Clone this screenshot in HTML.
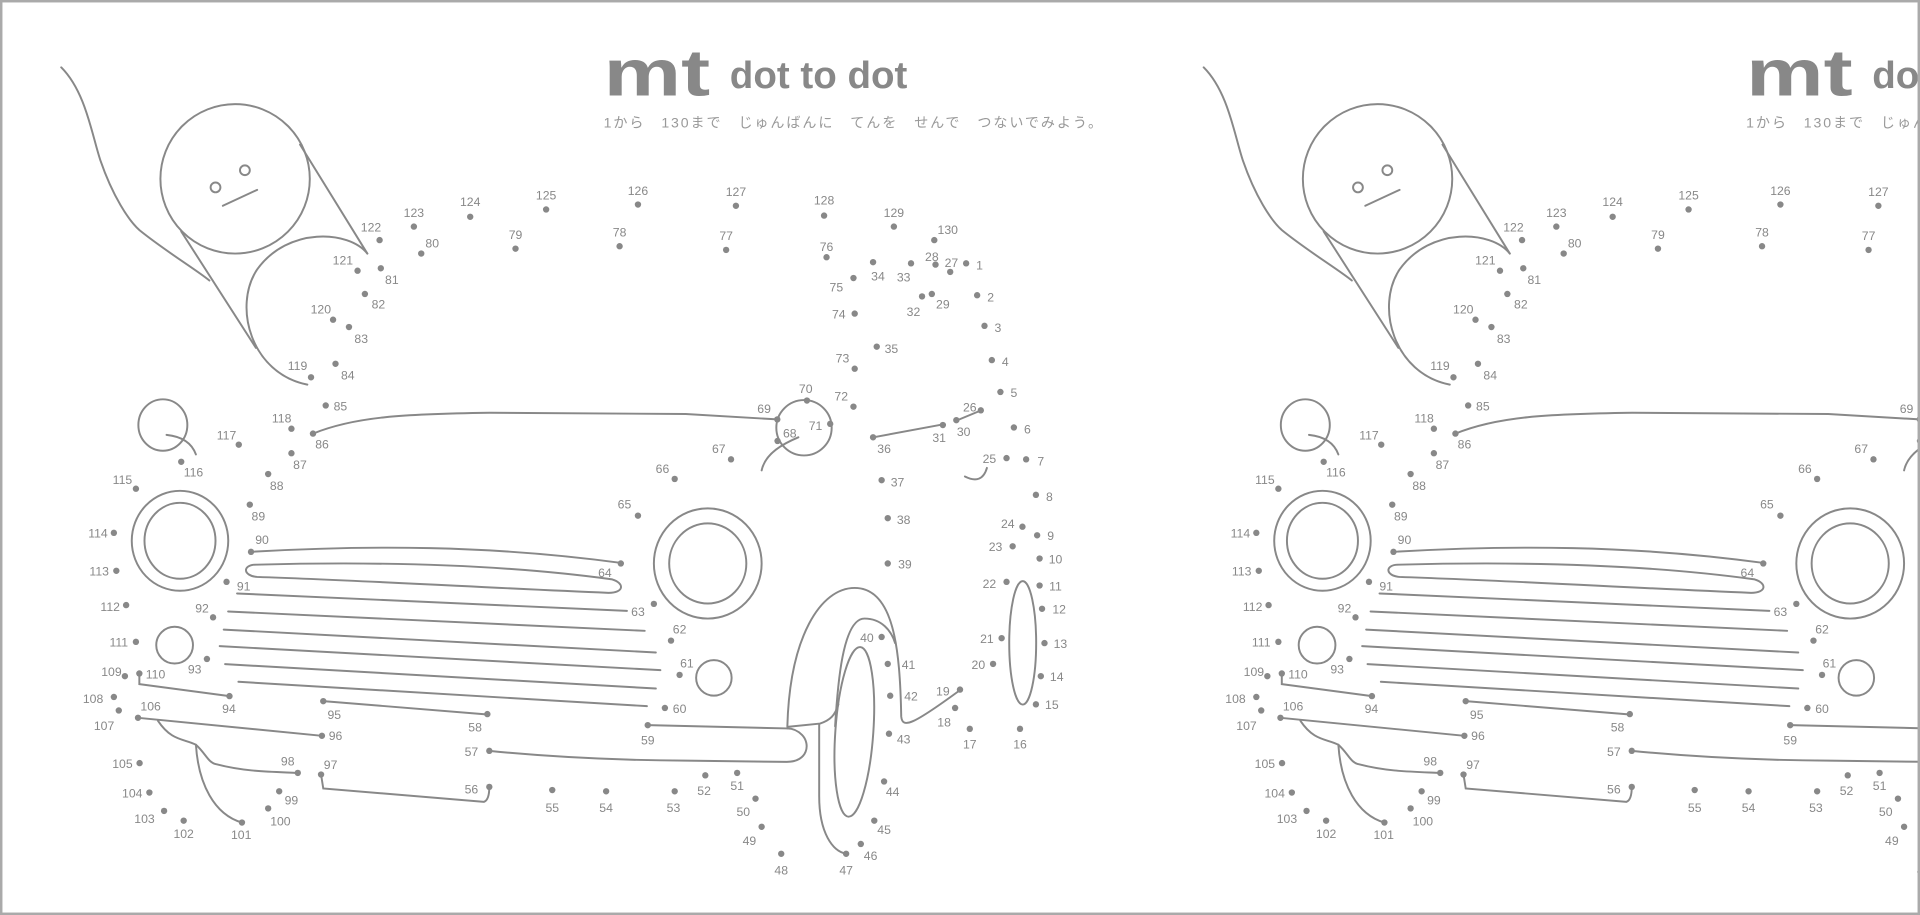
<!DOCTYPE html>
<html><head><meta charset="utf-8"><style>
html,body{margin:0;padding:0;background:#fff;}
svg{display:block;}
</style></head><body>
<svg width="1920" height="915" viewBox="0 0 1568 747" preserveAspectRatio="none" xmlns="http://www.w3.org/2000/svg">
<rect x="0" y="0" width="1568" height="747" fill="#fff"/>
<g id="p">
<g fill="none" stroke="#888" stroke-width="1.6" stroke-linecap="round">
<text x="493" y="78" font-family="Liberation Sans, sans-serif" font-weight="bold" font-size="54" fill="#888" stroke="none" textLength="87" lengthAdjust="spacingAndGlyphs">mt</text>
<path d="M50,55 C70,75 75,110 82,131 C92,160 105,180 114,188 C135,205 160,220 171,229"/>
<circle cx="192" cy="146" r="61"/>
<circle cx="176" cy="153" r="4"/><circle cx="200" cy="139" r="4"/>
<path d="M182,168 L210,155"/>
<path d="M148,189 L209,284"/>
<path d="M245,118 L300,207"/>
<path d="M251,314 C205,305 190,250 210,220 C235,185 285,188 300,207"/>
<path d="M255.6,354 C290,340 330,338 400,337 L560,338 L634.8,342.4"/>
<ellipse cx="133" cy="347" rx="20" ry="21"/>
<path d="M136,355 Q155,357 160,371"/>
<ellipse cx="147" cy="441.5" rx="39.4" ry="40.8"/>
<ellipse cx="147" cy="441.5" rx="29" ry="31"/>
<ellipse cx="578" cy="460" rx="44" ry="45"/>
<ellipse cx="578" cy="460" rx="31.5" ry="32.7"/>
<circle cx="142.6" cy="526.7" r="15"/>
<circle cx="583" cy="553.4" r="14.5"/>
<path d="M205,450.5 C300,445 400,445 506.5,459.5"/>
<path d="M209,461 C320,458 420,462 500,473 C510,476 510,484 497,484 C400,480 300,474 210,471 C198,470 198,461 209,461Z"/>
<path d="M193.6,484.5 L512,498.7"/>
<path d="M186.3,499.2 L526.5,515"/>
<path d="M182.7,514 L535.6,532.7"/>
<path d="M179.4,527.5 L539.3,547.1"/>
<path d="M183.8,542.2 L535.6,562.1"/>
<path d="M194.7,556.6 L528.3,576.5"/>
<path d="M113.8,549.8 L113.8,558.5 L187.4,568.3"/>
<path d="M264,572.4 L398.2,583.3"/>
<path d="M112.7,586 L262.9,600.7"/>
<path d="M129,588.5 C140,605 150,603 160,608 C168,615 170,623 177,624 C200,630 220,630 243,631"/>
<path d="M160,608 C162,640 175,665 197.6,671.5"/>
<path d="M262.2,632.3 L264,643.7 L395.3,654.6 Q399.6,653 399.6,642.4"/>
<path d="M399.6,613 C450,618 500,620.6 560,621 L642.5,622 C660,622 662,607 655,600 C650,595 645,594.7 643,594.7"/>
<path d="M529.4,592 L643,594.7"/>
<circle cx="656.6" cy="349.2" r="22.6"/>
<path d="M652,357 C640,362 625,370 622,384"/>
<path d="M712.7,357.1 L769.9,346.5"/>
<path d="M780.8,343.5 L801.7,334.8"/>
<path d="M788,389 Q802,396 806,382"/>
<ellipse cx="835.2" cy="524.8" rx="11" ry="50.4"/>
<ellipse cx="697.7" cy="597.5" rx="15.5" ry="69.4" transform="rotate(4 697.7 597.5)"/>
<path d="M643,593 C645,520 670,480 698,480 C730,480 735,530 736,585 C737,595 745,592 784,563.4"/>
<path d="M682,593 C684,560 688,505 706,505 C720,505 728,515 731,525"/>
<path d="M643,593.4 L669.7,590.7 C678,588 682,584 684.7,575"/>
<path d="M669,591 L669,650 C669,680 680,695 691,697"/>
</g>
<text x="596" y="72" font-family="Liberation Sans, sans-serif" font-weight="bold" font-size="31" fill="#888" textLength="145" lengthAdjust="spacingAndGlyphs">dot to dot</text>
<text x="493" y="104" font-family="Liberation Sans, 'Noto Sans CJK JP', sans-serif" font-size="11.5" fill="#999" textLength="407" lengthAdjust="spacing">1から　130まで　じゅんばんに　てんを　せんで　つないでみよう。</text>
<g fill="#888">
<circle cx="789" cy="215" r="2.6"/><circle cx="798" cy="241" r="2.6"/><circle cx="804" cy="266" r="2.6"/><circle cx="810" cy="294" r="2.6"/><circle cx="817" cy="320" r="2.6"/><circle cx="828" cy="349" r="2.6"/><circle cx="838" cy="375" r="2.6"/><circle cx="846" cy="404" r="2.6"/><circle cx="847" cy="437" r="2.6"/><circle cx="849" cy="456" r="2.6"/><circle cx="849" cy="478" r="2.6"/><circle cx="851" cy="497" r="2.6"/><circle cx="853" cy="525" r="2.6"/><circle cx="850" cy="552" r="2.6"/><circle cx="846" cy="575" r="2.6"/><circle cx="833" cy="595" r="2.6"/><circle cx="792" cy="595" r="2.6"/><circle cx="780" cy="578" r="2.6"/><circle cx="784" cy="563" r="2.6"/><circle cx="811" cy="542" r="2.6"/><circle cx="818" cy="521" r="2.6"/><circle cx="822" cy="475" r="2.6"/><circle cx="827" cy="446" r="2.6"/><circle cx="835" cy="430" r="2.6"/><circle cx="822" cy="374" r="2.6"/><circle cx="801" cy="335" r="2.6"/><circle cx="776" cy="222" r="2.6"/><circle cx="764" cy="216" r="2.6"/><circle cx="761" cy="240" r="2.6"/><circle cx="781" cy="343" r="2.6"/><circle cx="770" cy="347" r="2.6"/><circle cx="753" cy="242" r="2.6"/><circle cx="744" cy="215" r="2.6"/><circle cx="713" cy="214" r="2.6"/><circle cx="716" cy="283" r="2.6"/><circle cx="713" cy="357" r="2.6"/><circle cx="720" cy="392" r="2.6"/><circle cx="725" cy="423" r="2.6"/><circle cx="725" cy="460" r="2.6"/><circle cx="720" cy="520" r="2.6"/><circle cx="725" cy="542" r="2.6"/><circle cx="727" cy="568" r="2.6"/><circle cx="726" cy="599" r="2.6"/><circle cx="722" cy="638" r="2.6"/><circle cx="714" cy="670" r="2.6"/><circle cx="703" cy="689" r="2.6"/><circle cx="691" cy="697" r="2.6"/><circle cx="638" cy="697" r="2.6"/><circle cx="622" cy="675" r="2.6"/><circle cx="617" cy="652" r="2.6"/><circle cx="602" cy="631" r="2.6"/><circle cx="576" cy="633" r="2.6"/><circle cx="551" cy="646" r="2.6"/><circle cx="495" cy="646" r="2.6"/><circle cx="451" cy="645" r="2.6"/><circle cx="399.6" cy="642.4" r="2.6"/><circle cx="399.6" cy="613" r="2.6"/><circle cx="398" cy="583" r="2.6"/><circle cx="529" cy="592" r="2.6"/><circle cx="543" cy="578" r="2.6"/><circle cx="555" cy="551" r="2.6"/><circle cx="548" cy="523" r="2.6"/><circle cx="534" cy="493" r="2.6"/><circle cx="507" cy="460" r="2.6"/><circle cx="521" cy="421" r="2.6"/><circle cx="551" cy="391" r="2.6"/><circle cx="597" cy="375" r="2.6"/><circle cx="635" cy="360" r="2.6"/><circle cx="634.8" cy="342.4" r="2.6"/><circle cx="659" cy="327" r="2.6"/><circle cx="678" cy="346" r="2.6"/><circle cx="697" cy="332" r="2.6"/><circle cx="698" cy="301" r="2.6"/><circle cx="698" cy="256" r="2.6"/><circle cx="697" cy="227" r="2.6"/><circle cx="675" cy="210" r="2.6"/><circle cx="593" cy="204" r="2.6"/><circle cx="506" cy="201" r="2.6"/><circle cx="421" cy="203" r="2.6"/><circle cx="344" cy="207" r="2.6"/><circle cx="311" cy="219" r="2.6"/><circle cx="298" cy="240" r="2.6"/><circle cx="285" cy="267" r="2.6"/><circle cx="274" cy="297" r="2.6"/><circle cx="266" cy="331" r="2.6"/><circle cx="255.6" cy="354" r="2.6"/><circle cx="238" cy="370" r="2.6"/><circle cx="219" cy="387" r="2.6"/><circle cx="204" cy="412" r="2.6"/><circle cx="205" cy="450.5" r="2.6"/><circle cx="185" cy="475" r="2.6"/><circle cx="174" cy="504" r="2.6"/><circle cx="169" cy="538" r="2.6"/><circle cx="187.4" cy="568.3" r="2.6"/><circle cx="264" cy="572.4" r="2.6"/><circle cx="262.9" cy="600.7" r="2.6"/><circle cx="262.2" cy="632.3" r="2.6"/><circle cx="243.2" cy="631" r="2.6"/><circle cx="228" cy="646" r="2.6"/><circle cx="219" cy="660" r="2.6"/><circle cx="197.6" cy="671.5" r="2.6"/><circle cx="150" cy="670" r="2.6"/><circle cx="134" cy="662" r="2.6"/><circle cx="122" cy="647" r="2.6"/><circle cx="114" cy="623" r="2.6"/><circle cx="112.7" cy="586" r="2.6"/><circle cx="97" cy="580" r="2.6"/><circle cx="93" cy="569" r="2.6"/><circle cx="102" cy="552" r="2.6"/><circle cx="113.8" cy="549.8" r="2.6"/><circle cx="111" cy="524" r="2.6"/><circle cx="103" cy="494" r="2.6"/><circle cx="95" cy="466" r="2.6"/><circle cx="93" cy="435" r="2.6"/><circle cx="111" cy="399" r="2.6"/><circle cx="148" cy="377" r="2.6"/><circle cx="195" cy="363" r="2.6"/><circle cx="238" cy="350" r="2.6"/><circle cx="254" cy="308" r="2.6"/><circle cx="272" cy="261" r="2.6"/><circle cx="292" cy="221" r="2.6"/><circle cx="310" cy="196" r="2.6"/><circle cx="338" cy="185" r="2.6"/><circle cx="384" cy="177" r="2.6"/><circle cx="446" cy="171" r="2.6"/><circle cx="521" cy="167" r="2.6"/><circle cx="601" cy="168" r="2.6"/><circle cx="673" cy="176" r="2.6"/><circle cx="730" cy="185" r="2.6"/><circle cx="763" cy="196" r="2.6"/>
</g>
<g fill="#888" font-family="Liberation Sans, sans-serif" font-size="10" text-anchor="middle">
<text x="800" y="220">1</text><text x="809" y="246">2</text><text x="815" y="271">3</text><text x="821" y="299">4</text><text x="828" y="324">5</text><text x="839" y="354">6</text><text x="850" y="380">7</text><text x="857" y="409">8</text><text x="858" y="441">9</text><text x="862" y="460">10</text><text x="862" y="482">11</text><text x="865" y="501">12</text><text x="866" y="529">13</text><text x="863" y="556">14</text><text x="859" y="579">15</text><text x="833" y="611">16</text><text x="792" y="611">17</text><text x="771" y="593">18</text><text x="770" y="568">19</text><text x="799" y="546">20</text><text x="806" y="525">21</text><text x="808" y="480">22</text><text x="813" y="450">23</text><text x="823" y="431">24</text><text x="808" y="378">25</text><text x="792" y="336">26</text><text x="777" y="218">27</text><text x="761" y="213">28</text><text x="770" y="252">29</text><text x="787" y="356">30</text><text x="767" y="361">31</text><text x="746" y="258">32</text><text x="738" y="230">33</text><text x="717" y="229">34</text><text x="728" y="288">35</text><text x="722" y="370">36</text><text x="733" y="397">37</text><text x="738" y="428">38</text><text x="739" y="464">39</text><text x="708" y="524">40</text><text x="742" y="546">41</text><text x="744" y="572">42</text><text x="738" y="607">43</text><text x="729" y="650">44</text><text x="722" y="681">45</text><text x="711" y="702">46</text><text x="691" y="714">47</text><text x="638" y="714">48</text><text x="612" y="690">49</text><text x="607" y="666">50</text><text x="602" y="645">51</text><text x="575" y="649">52</text><text x="550" y="663">53</text><text x="495" y="663">54</text><text x="451" y="663">55</text><text x="385" y="648">56</text><text x="385" y="617">57</text><text x="388" y="597">58</text><text x="529" y="608">59</text><text x="555" y="582">60</text><text x="561" y="545">61</text><text x="555" y="517">62</text><text x="521" y="503">63</text><text x="494" y="471">64</text><text x="510" y="415">65</text><text x="541" y="386">66</text><text x="587" y="370">67</text><text x="645" y="357">68</text><text x="624" y="337">69</text><text x="658" y="321">70</text><text x="666" y="351">71</text><text x="687" y="327">72</text><text x="688" y="296">73</text><text x="685" y="260">74</text><text x="683" y="238">75</text><text x="675" y="205">76</text><text x="593" y="196">77</text><text x="506" y="193">78</text><text x="421" y="195">79</text><text x="353" y="202">80</text><text x="320" y="232">81</text><text x="309" y="252">82</text><text x="295" y="280">83</text><text x="284" y="310">84</text><text x="278" y="335">85</text><text x="263" y="366">86</text><text x="245" y="383">87</text><text x="226" y="400">88</text><text x="211" y="425">89</text><text x="214" y="444">90</text><text x="199" y="482">91</text><text x="165" y="500">92</text><text x="159" y="550">93</text><text x="187" y="582">94</text><text x="273" y="587">95</text><text x="274" y="604">96</text><text x="270" y="628">97</text><text x="235" y="625">98</text><text x="238" y="657">99</text><text x="229" y="674">100</text><text x="197" y="685">101</text><text x="150" y="684">102</text><text x="118" y="672">103</text><text x="108" y="651">104</text><text x="100" y="627">105</text><text x="123" y="580">106</text><text x="85" y="596">107</text><text x="76" y="574">108</text><text x="91" y="552">109</text><text x="127" y="554">110</text><text x="97" y="528">111</text><text x="90" y="499">112</text><text x="81" y="470">113</text><text x="80" y="439">114</text><text x="100" y="395">115</text><text x="158" y="389">116</text><text x="185" y="359">117</text><text x="230" y="345">118</text><text x="243" y="302">119</text><text x="262" y="256">120</text><text x="280" y="216">121</text><text x="303" y="189">122</text><text x="338" y="177">123</text><text x="384" y="168">124</text><text x="446" y="163">125</text><text x="521" y="159">126</text><text x="601" y="160">127</text><text x="673" y="167">128</text><text x="730" y="177">129</text><text x="774" y="191">130</text>
</g>
</g>
<use href="#p" x="933" y="0"/>
<rect x="1" y="1" width="1566" height="745" fill="none" stroke="#aaa" stroke-width="2"/>
</svg>
</body></html>
